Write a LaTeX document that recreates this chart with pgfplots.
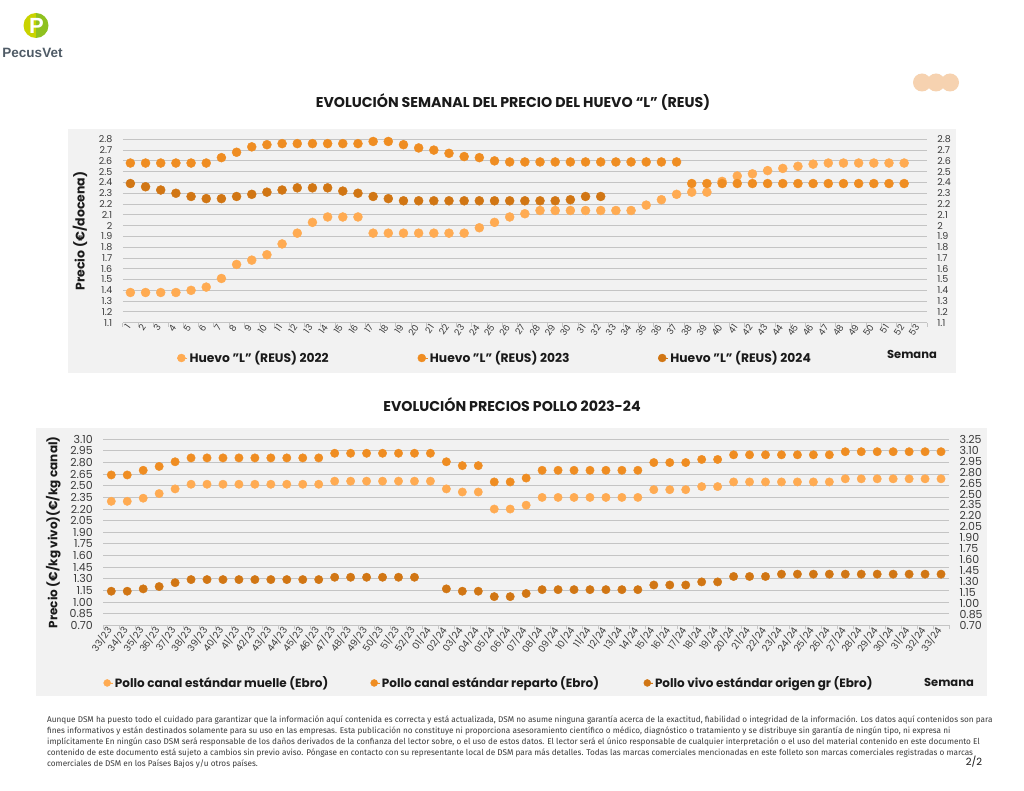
\documentclass[border=0pt]{standalone}
\usepackage{fontspec}
\setmainfont{Poppins}
\newfontfamily\footfont[FakeStretch=0.988]{Fira Sans}
\newfontfamily\logofont{Liberation Sans}
\usepackage{pgfplots}
\pgfplotsset{compat=1.18}

\definecolor{cpanel}{HTML}{F2F2F2}
\definecolor{cgrid}{HTML}{C4C4C4}
\definecolor{ctick}{HTML}{3A3A3A}
\definecolor{ctext}{HTML}{1A1A1A}
\definecolor{cA}{HTML}{FFAB52}
\definecolor{cB}{HTML}{EF8D22}
\definecolor{cC}{HTML}{D17614}
\definecolor{cpeach}{HTML}{F6D2B0}
\definecolor{cgreenA}{HTML}{C9D300}
\definecolor{cgreenB}{HTML}{8FC11F}
\definecolor{clogo}{HTML}{4F5B66}

\pgfplotsset{
  dotchart/.style={
    scale only axis, clip=false,
    only marks,
    major tick length=0pt,
    ymajorgrids,
    grid style={draw=cgrid, line width=0.9pt},
    axis x line*=bottom, axis y line*=left,
    y axis line style={draw=none},
    x axis line style={draw=cgrid, line width=0.9pt},
    minor tick length=4pt, tick align=outside,
    minor tick style={draw=cgrid, line width=0.8pt},
    /pgf/number format/assume math mode=true,
    ticklabel style={text=ctick},
    yticklabel style={xshift=-7pt},
    xticklabel style={rotate=55, anchor=east},
    legend columns=3,
    legend style={draw=none, fill=none, inner xsep=0pt, inner ysep=0pt, text=ctext},
  },
  rightaxis/.style={
    scale only axis,
    axis x line=none, axis y line*=right,
    y axis line style={draw=none},
    major tick length=0pt,
    /pgf/number format/assume math mode=true,
    ticklabel style={text=ctick},
    yticklabel style={xshift=7pt, anchor=west},
  },
}

\begin{document}
\begin{tikzpicture}
\begin{scope}[x=1pt,y=-1pt]
\path[use as bounding box] (0,0) rectangle (1024,791);
\fill[white] (0,0) rectangle (1024,791);
% logo
\begin{scope}
\clip (20,10) rectangle (36,41);
\fill[cgreenA] (36,25.5) circle (12.5);
\end{scope}
\begin{scope}
\clip (36,10) rectangle (52,41);
\fill[cgreenB] (36,25.5) circle (12.5);
\end{scope}
\node[text=white, font=\fontsize{22}{22}\logofont\bfseries] at (36.5,26) {P};
\node[text=clogo, font=\fontsize{13.5}{14}\logofont\bfseries] at (32.5,52.5) {PecusVet};
% peach circles
\fill[cpeach] (922,82.5) circle (9);
\fill[cpeach] (936,82.5) circle (9);
\fill[cpeach] (950,82.5) circle (9);
% panels
\fill[cpanel] (68,129) rectangle (956,373);
\fill[cpanel] (36,428) rectangle (987,696);
% titles
\node[text=ctext, font=\fontsize{14.2}{16}\bfseries] at (513,102) {EVOLUCIÓN SEMANAL DEL PRECIO DEL HUEVO “L” (REUS)};
\node[text=ctext, font=\fontsize{14.2}{16}\bfseries] at (512,405) {EVOLUCIÓN PRECIOS POLLO 2023-24};
\node[text=ctext, font=\fontsize{11.5}{13}\bfseries] at (912,354) {Semana};
\node[text=ctext, font=\fontsize{11.5}{13}\bfseries] at (949,682) {Semana};
\end{scope}

% ---------- chart 1: huevo ----------
\begin{axis}[dotchart,
  at={(122.8pt,-322.7pt)}, anchor=south west,
  width=804.1pt, height=183.4pt,
  xmin=0.5, xmax=53.5, ymin=1.1, ymax=2.8,
  xtick={1,...,53},
  minor xtick={0.5,1.5,...,53.5},
  ytick={1.1,1.2,1.3,1.4,1.5,1.6,1.7,1.8,1.9,2,2.1,2.2,2.3,2.4,2.5,2.6,2.7,2.8},
  yticklabel style={font=\fontsize{9.5}{10}\selectfont},
  xticklabel style={font=\fontsize{9}{10}\selectfont},
  mark size=4.5pt,
  ylabel={Precio (€/docena)},
  every axis y label/.style={at={(rel axis cs:0,0.5)}, xshift=-42.8pt, rotate=90, anchor=center, font=\fontsize{12.5}{14}\bfseries, text=ctext},
  legend image code/.code={\path (0pt,0pt) -- (10pt,0pt); \draw[#1, mark size=4pt] plot coordinates {(4pt,0pt)};},
  legend style={at={(rel axis cs:0.0674,-0.1925)}, anchor=west, font=\fontsize{12.3}{14}\bfseries},
]
\addplot[mark=*, draw=cA, fill=cA] coordinates {
(1,1.38)(2,1.38)(3,1.38)(4,1.38)(5,1.40)(6,1.43)(7,1.51)(8,1.64)(9,1.68)(10,1.73)
(11,1.83)(12,1.93)(13,2.03)(14,2.08)(15,2.08)(16,2.08)(17,1.93)(18,1.93)(19,1.93)(20,1.93)
(21,1.93)(22,1.93)(23,1.93)(24,1.98)(25,2.03)(26,2.08)(27,2.11)(28,2.14)(29,2.14)(30,2.14)
(31,2.14)(32,2.14)(33,2.14)(34,2.14)(35,2.19)(36,2.24)(37,2.29)(38,2.31)(39,2.31)(40,2.41)
(41,2.46)(42,2.48)(43,2.51)(44,2.53)(45,2.55)(46,2.57)(47,2.58)(48,2.58)(49,2.58)(50,2.58)
(51,2.58)(52,2.58)};
\addlegendentry{\makebox[226pt][l]{Huevo "L" (REUS) 2022}}
\addplot[mark=*, draw=cB, fill=cB] coordinates {
(1,2.58)(2,2.58)(3,2.58)(4,2.58)(5,2.58)(6,2.58)(7,2.63)(8,2.68)(9,2.73)(10,2.75)
(11,2.76)(12,2.76)(13,2.76)(14,2.76)(15,2.76)(16,2.76)(17,2.78)(18,2.78)(19,2.75)(20,2.72)
(21,2.70)(22,2.67)(23,2.64)(24,2.63)(25,2.60)(26,2.59)(27,2.59)(28,2.59)(29,2.59)(30,2.59)
(31,2.59)(32,2.59)(33,2.59)(34,2.59)(35,2.59)(36,2.59)(37,2.59)(38,2.39)(39,2.39)(40,2.39)
(41,2.39)(42,2.39)(43,2.39)(44,2.39)(45,2.39)(46,2.39)(47,2.39)(48,2.39)(49,2.39)(50,2.39)
(51,2.39)(52,2.39)};
\addlegendentry{\makebox[226pt][l]{Huevo "L" (REUS) 2023}}
\addplot[mark=*, draw=cC, fill=cC] coordinates {
(1,2.39)(2,2.36)(3,2.33)(4,2.30)(5,2.27)(6,2.25)(7,2.25)(8,2.27)(9,2.29)(10,2.31)
(11,2.33)(12,2.35)(13,2.35)(14,2.35)(15,2.32)(16,2.30)(17,2.27)(18,2.25)(19,2.23)(20,2.23)
(21,2.23)(22,2.23)(23,2.23)(24,2.23)(25,2.23)(26,2.23)(27,2.23)(28,2.23)(29,2.23)(30,2.24)
(31,2.27)(32,2.27)};
\addlegendentry{Huevo "L" (REUS) 2024}
\end{axis}
\begin{axis}[rightaxis,
  at={(122.8pt,-322.7pt)}, anchor=south west,
  width=804.1pt, height=183.4pt,
  xmin=0.5, xmax=53.5, ymin=1.1, ymax=2.8,
  ytick={1.1,1.2,1.3,1.4,1.5,1.6,1.7,1.8,1.9,2,2.1,2.2,2.3,2.4,2.5,2.6,2.7,2.8},
  yticklabel style={font=\fontsize{9.5}{10}\selectfont},
]
\end{axis}

% ---------- chart 2: pollo ----------
\begin{axis}[dotchart,
  at={(103.3pt,-625.3pt)}, anchor=south west,
  width=845.7pt, height=186pt,
  xmin=-0.5, xmax=52.5, ymin=0.7, ymax=3.1,
  xtick={0,...,52},
  minor xtick={-0.5,0.5,...,52.5},
  xticklabels={33/23,34/23,35/23,36/23,37/23,38/23,39/23,40/23,41/23,42/23,43/23,44/23,45/23,46/23,47/23,48/23,49/23,50/23,51/23,52/23,
    01/24,02/24,03/24,04/24,05/24,06/24,07/24,08/24,09/24,10/24,11/24,12/24,13/24,14/24,15/24,16/24,17/24,18/24,19/24,20/24,
    21/24,22/24,23/24,24/24,25/24,26/24,27/24,28/24,29/24,30/24,31/24,32/24,33/24},
  xticklabel style={font=\fontsize{9.5}{10}\selectfont},
  ytick={0.70,0.85,1.00,1.15,1.30,1.45,1.60,1.75,1.90,2.05,2.20,2.35,2.50,2.65,2.80,2.95,3.10},
  yticklabel style={font=\fontsize{11}{12}\selectfont, /pgf/number format/fixed, /pgf/number format/fixed zerofill, /pgf/number format/precision=2},
  mark size=4.2pt,
  ylabel={Precio (€/kg vivo)(€/kg canal)},
  every axis y label/.style={at={(rel axis cs:0,0.5)}, xshift=-50pt, rotate=90, anchor=center, font=\fontsize{12}{14}\bfseries, text=ctext},
  legend image code/.code={\path (0pt,0pt) -- (9pt,0pt); \draw[#1, mark size=3.5pt] plot coordinates {(3.5pt,0pt)};},
  legend style={at={(rel axis cs:0,-0.310)}, anchor=west, font=\fontsize{12}{14}\bfseries},
]
\addplot[mark=*, draw=cA, fill=cA] coordinates {
(0,2.30)(1,2.30)(2,2.34)(3,2.40)(4,2.46)(5,2.52)(6,2.52)(7,2.52)(8,2.52)(9,2.52)
(10,2.52)(11,2.52)(12,2.52)(13,2.52)(14,2.56)(15,2.56)(16,2.56)(17,2.56)(18,2.56)(19,2.56)
(20,2.56)(21,2.46)(22,2.42)(23,2.42)(24,2.20)(25,2.20)(26,2.25)(27,2.35)(28,2.35)(29,2.35)
(30,2.35)(31,2.35)(32,2.35)(33,2.35)(34,2.45)(35,2.45)(36,2.45)(37,2.49)(38,2.49)(39,2.55)
(40,2.55)(41,2.55)(42,2.55)(43,2.55)(44,2.55)(45,2.55)(46,2.59)(47,2.59)(48,2.59)(49,2.59)
(50,2.59)(51,2.59)(52,2.59)};
\addlegendentry{\makebox[253.6pt][l]{Pollo canal estándar muelle (Ebro)}}
\addplot[mark=*, draw=cB, fill=cB] coordinates {
(0,2.64)(1,2.64)(2,2.70)(3,2.75)(4,2.81)(5,2.86)(6,2.86)(7,2.86)(8,2.86)(9,2.86)
(10,2.86)(11,2.86)(12,2.86)(13,2.86)(14,2.92)(15,2.92)(16,2.92)(17,2.92)(18,2.92)(19,2.92)
(20,2.92)(21,2.81)(22,2.76)(23,2.76)(24,2.55)(25,2.55)(26,2.60)(27,2.70)(28,2.70)(29,2.70)
(30,2.70)(31,2.70)(32,2.70)(33,2.70)(34,2.80)(35,2.80)(36,2.80)(37,2.84)(38,2.84)(39,2.90)
(40,2.90)(41,2.90)(42,2.90)(43,2.90)(44,2.90)(45,2.90)(46,2.94)(47,2.94)(48,2.94)(49,2.94)
(50,2.94)(51,2.94)(52,2.94)};
\addlegendentry{\makebox[259.7pt][l]{Pollo canal estándar reparto (Ebro)}}
\addplot[mark=*, draw=cC, fill=cC] coordinates {
(0,1.14)(1,1.14)(2,1.17)(3,1.20)(4,1.25)(5,1.29)(6,1.29)(7,1.29)(8,1.29)(9,1.29)
(10,1.29)(11,1.29)(12,1.29)(13,1.29)(14,1.32)(15,1.32)(16,1.32)(17,1.32)(18,1.32)(19,1.32)
(21,1.17)(22,1.14)(23,1.14)(24,1.07)(25,1.07)(26,1.11)(27,1.16)(28,1.16)(29,1.16)
(30,1.16)(31,1.16)(32,1.16)(33,1.16)(34,1.22)(35,1.22)(36,1.22)(37,1.26)(38,1.26)(39,1.33)
(40,1.33)(41,1.33)(42,1.36)(43,1.36)(44,1.36)(45,1.36)(46,1.36)(47,1.36)(48,1.36)(49,1.36)
(50,1.36)(51,1.36)(52,1.36)};
\addlegendentry{Pollo vivo estándar origen gr (Ebro)}
\end{axis}
\begin{axis}[rightaxis,
  at={(103.3pt,-625.3pt)}, anchor=south west,
  width=845.7pt, height=186pt,
  xmin=-0.5, xmax=52.5, ymin=0.7, ymax=3.25,
  ytick={0.70,0.85,1.00,1.15,1.30,1.45,1.60,1.75,1.90,2.05,2.20,2.35,2.50,2.65,2.80,2.95,3.10,3.25},
  yticklabel style={font=\fontsize{11}{12}\selectfont, /pgf/number format/fixed, /pgf/number format/fixed zerofill, /pgf/number format/precision=2},
]
\end{axis}

% ---------- footer ----------
\begin{scope}[x=1pt,y=-1pt]
\node[anchor=north west, align=left, inner sep=0pt, text=ctick,
  font=\footfont\fontsize{8.3}{11}\selectfont] at (47,716) {%
Aunque DSM ha puesto todo el cuidado para garantizar que la información aquí contenida es correcta y está actualizada, DSM no asume ninguna garantía acerca de la exactitud, fiabilidad o integridad de la información. Los datos aquí contenidos son para\\
fines informativos y están destinados solamente para su uso en las empresas. Esta publicación no constituye ni proporciona asesoramiento científico o médico, diagnóstico o tratamiento y se distribuye sin garantía de ningún tipo, ni expresa ni\\
implícitamente En ningún caso DSM será responsable de los daños derivados de la confianza del lector sobre, o el uso de estos datos. El lector será el único responsable de cualquier interpretación o el uso del material contenido en este documento El\\
contenido de este documento está sujeto a cambios sin previo aviso. Póngase en contacto con su representante local de DSM para más detalles. Todas las marcas comerciales mencionadas en este folleto son marcas comerciales registradas o marcas\\
comerciales de DSM en los Países Bajos y/u otros países.};
\node[text=ctext, font=\fontsize{10}{12}\selectfont] at (974,762) {2/2};
\end{scope}
\end{tikzpicture}
\end{document}
